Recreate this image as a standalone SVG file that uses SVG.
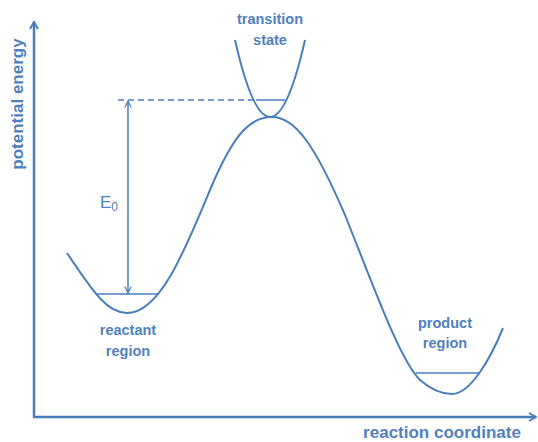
<svg xmlns="http://www.w3.org/2000/svg" width="538" height="442" viewBox="0 0 538 442">
<style>
.ln{fill:none;stroke:#4A7EBB;stroke-width:2}
.thin{fill:none;stroke:#4A7EBB;stroke-width:1.5}
.t{font-family:"Liberation Sans",Arial,sans-serif;fill:#4F81BD;font-size:14.5px;font-weight:bold;text-anchor:middle}
.big{font-size:17px}
</style>
<defs>
<marker id="ah" viewBox="0 0 10 10" refX="9" refY="5" markerWidth="8" markerHeight="8" orient="auto-start-reverse" markerUnits="userSpaceOnUse">
<polyline points="1,1 9,5 1,9" fill="none" stroke="#4A7EBB" stroke-width="1.5"/>
</marker>
<marker id="ax" viewBox="0 0 10 10" refX="9" refY="5" markerWidth="10" markerHeight="10" orient="auto" markerUnits="userSpaceOnUse">
<polyline points="2,1 9,5 2,9" fill="none" stroke="#4A7EBB" stroke-width="2"/>
</marker>
</defs>
<g id="axes">
<line class="ln" x1="34" y1="417" x2="34" y2="22" marker-end="url(#ax)" style="stroke-width:2.5"/>
<line class="ln" x1="33" y1="417" x2="536" y2="417" marker-end="url(#ax)" style="stroke-width:2.5"/>
<text class="t big" transform="translate(23,104) rotate(-90)">potential energy</text>
<text class="t big" x="442" y="438">reaction coordinate</text>
</g>
<g id="energy-curve">
<path class="ln" d="M67,253 C95,295 108,313 127,313 C160,313 185,250 210,190 C235,130 252,117 272,117 C295,117 315,145 345,215 C375,290 400,360 420,380 C435,393 445,394 452,394 C470,394 490,360 503,328"/>
</g>
<g id="reactant-region">
<line class="thin" x1="96" y1="294" x2="159" y2="294"/>
<text class="t" x="128" y="335">reactant</text>
<text class="t" x="128" y="356">region</text>
</g>
<g id="transition-state">
<path class="ln" d="M235,40 Q270,194 305,40"/>
<line class="thin" x1="256" y1="100" x2="285" y2="100"/>
<text class="t" x="270" y="24">transition</text>
<text class="t" x="270" y="45">state</text>
</g>
<g id="product-region">
<line class="thin" x1="416" y1="373" x2="479" y2="373"/>
<text class="t" x="445" y="328">product</text>
<text class="t" x="445" y="348">region</text>
</g>
<g id="connectors">
<line class="thin" x1="118" y1="100" x2="256" y2="100" stroke-dasharray="6,4"/>
<line class="thin" x1="128" y1="101" x2="128" y2="293" marker-start="url(#ah)" marker-end="url(#ah)"/>
<text class="t" x="100" y="208" style="font-size:17px;font-weight:normal;text-anchor:start">E<tspan font-size="12" dy="3">0</tspan></text>
</g>
</svg>
